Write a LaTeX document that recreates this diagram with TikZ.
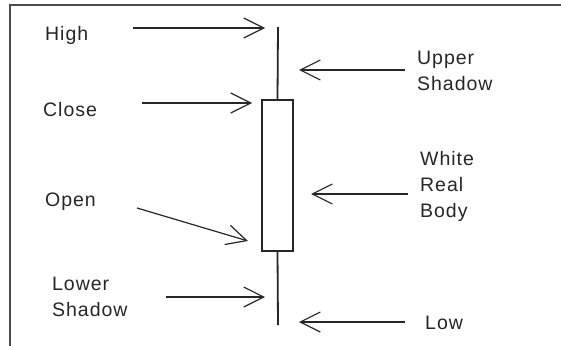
\documentclass[tikz,border=0pt]{standalone}
\usepackage{fontspec}
\newfontfamily\lblfont[LetterSpace=5]{Liberation Sans}
\usetikzlibrary{arrows.meta}
\tikzset{
  lbl/.style={inner sep=0pt, anchor=west, align=left, text=black!85,
    font=\lblfont\fontsize{19.5}{26}\selectfont},
  ptr/.style={line width=1.2pt, draw=black!85,
    -{Straight Barb[length=20pt,width=20pt,line width=1.2pt]}},
  stick/.style={line width=1.8pt, draw=black!85},
  frame/.style={line width=2pt, draw=black!70}
}
\begin{document}
\begin{tikzpicture}[x=1pt,y=-1pt]
\useasboundingbox (0,0) rectangle (561,345);
% frame
\draw[frame] (561,5) -- (10,5) -- (10,346);
% candle
\node[stick, draw, fill=white, minimum width=31pt, minimum height=151pt, inner sep=0pt] (body) at (277.5,175.5) {};
\coordinate (hightop) at (278,27);
\coordinate (lowbot) at (278,325);
\draw[stick] (hightop) -- (body.north);
\draw[stick] (body.south) -- (lowbot);
% labels
\node[lbl] (high) at (45,35) {High};
\node[lbl] (close) at (43,110) {Close};
\node[lbl] (open) at (45,202) {Open};
\node[lbl] (lower) at (52,297) {Lower\\Shadow};
\node[lbl] (upper) at (417,71) {Upper\\Shadow};
\node[lbl] (white) at (420,186) {White\\Real\\Body};
\node[lbl] (low) at (425,323) {Low};
% arrow endpoints
\coordinate (highS) at (133,28);  \coordinate (highE) at (265,28);
\coordinate (closeS) at (142,103); \coordinate (closeE) at (252,103);
\coordinate (openS) at (137,208); \coordinate (openE) at (248,241);
\coordinate (lowerS) at (166,297); \coordinate (lowerE) at (265,297);
\coordinate (upperS) at (405,70); \coordinate (upperE) at (299,70);
\coordinate (whiteS) at (408,194); \coordinate (whiteE) at (311,194);
\coordinate (lowS) at (405,322); \coordinate (lowE) at (299,322);
\draw[ptr] (highS) -- (highE);
\draw[ptr] (closeS) -- (closeE);
\draw[ptr] (openS) -- (openE);
\draw[ptr] (lowerS) -- (lowerE);
\draw[ptr] (upperS) -- (upperE);
\draw[ptr] (whiteS) -- (whiteE);
\draw[ptr] (lowS) -- (lowE);
\end{tikzpicture}
\end{document}
